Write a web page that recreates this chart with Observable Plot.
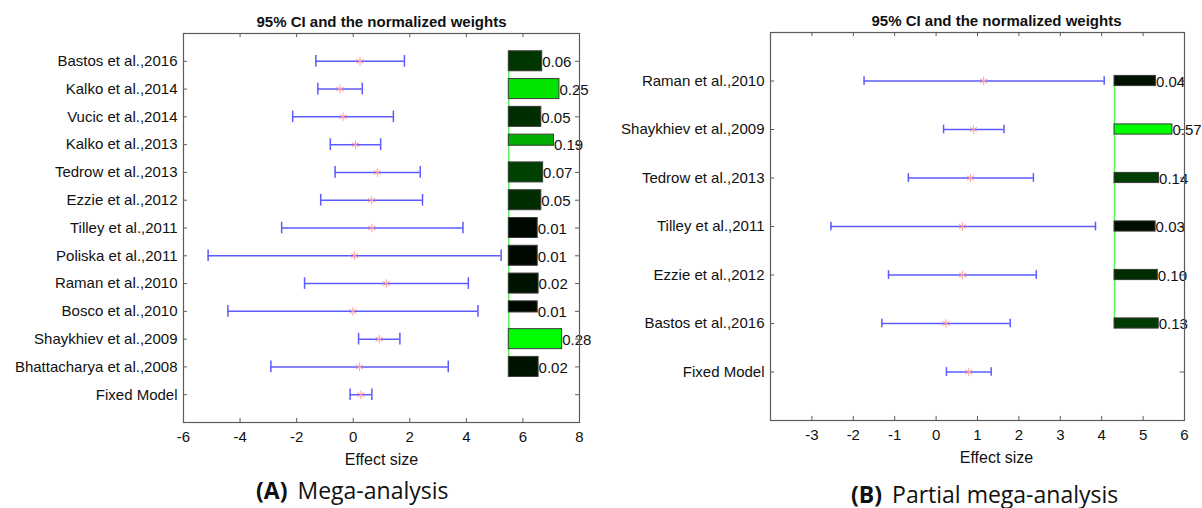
<!DOCTYPE html>
<html><head><meta charset="utf-8">
<script src="https://cdn.jsdelivr.net/npm/d3@7"></script>
<script src="https://cdn.jsdelivr.net/npm/@observablehq/plot@0.6"></script>
<style>
body{margin:0;background:#fff;width:1202px;height:508px;position:relative;overflow:hidden;font-family:"Liberation Sans",Arial,sans-serif}
#a,#b{position:absolute;top:0}
#a{left:0}
#b{left:600px}
.cap{position:absolute;font-family:"Open Sans",sans-serif;font-size:23px;line-height:26px;color:#111;white-space:nowrap;transform:translateY(-50%)}
.cap b{font-weight:700;margin-right:10px}
</style></head><body>
<div id="a"></div><div id="b"></div>
<div class="cap" style="left:256px;top:490px"><b>(A)</b>Mega-analysis</div>
<div class="cap" style="left:851px;top:494px"><b>(B)</b>Partial mega-analysis</div>
<script>
// ---- Panel A: Mega-analysis ----
const studiesA = ["Bastos et al.,2016","Kalko et al.,2014","Vucic et al.,2014","Kalko et al.,2013","Tedrow et al.,2013","Ezzie et al.,2012","Tilley et al.,2011","Poliska et al.,2011","Raman et al.,2010","Bosco et al.,2010","Shaykhiev et al.,2009","Bhattacharya et al.,2008"];
const estA  = [0.24,-0.46,-0.36,0.08,0.85,0.65,0.66,0.05,1.17,-0.01,0.92,0.22];
const lowA  = [-1.32,-1.25,-2.14,-0.81,-0.64,-1.15,-2.53,-5.13,-1.72,-4.43,0.19,-2.91];
const highA = [1.81,0.32,1.42,0.97,2.37,2.45,3.88,5.23,4.07,4.41,1.65,3.36];
const weightsA = [0.06,0.25,0.05,0.19,0.07,0.05,0.01,0.01,0.02,0.01,0.28,0.02];
const fixedA = {est:0.27, low:-0.11, high:0.66};
const ticksA = [-6,-4,-2,0,2,4,6,8];

// ---- Panel B: Partial mega-analysis ----
const studiesB = ["Raman et al.,2010","Shaykhiev et al.,2009","Tedrow et al.,2013","Tilley et al.,2011","Ezzie et al.,2012","Bastos et al.,2016"];
const estB  = [1.15,0.90,0.83,0.64,0.64,0.24];
const lowB  = [-1.74,0.18,-0.67,-2.54,-1.15,-1.31];
const highB = [4.06,1.64,2.35,3.85,2.42,1.79];
const weightsB = [0.04,0.57,0.14,0.03,0.10,0.13];
const fixedB = {est:0.79, low:0.25, high:1.33};
const ticksB = [-3,-2,-1,0,1,2,3,4,5,6];

const FONT = "'Liberation Sans', Arial, sans-serif";

function panel(cfg) {
  const n = cfg.studies.length;
  const labels = [...cfg.studies, "Fixed Model"];
  const rows = labels.map((name, i) => ({
    name, row: i + 1,
    est: i < n ? cfg.est[i] : cfg.fixed.est,
    low: i < n ? cfg.low[i] : cfg.fixed.low,
    high: i < n ? cfg.high[i] : cfg.fixed.high
  }));
  const maxW = d3.max(cfg.weights);
  const bars = cfg.studies.map((name, i) => ({
    row: i + 1, w: cfg.weights[i],
    x1: cfg.barStart,
    x2: cfg.barStart + cfg.barBase + cfg.barK * cfg.weights[i],
    half: cfg.half.includes(name),
    color: d3.rgb(0, Math.round(255 * cfg.weights[i] / maxW), 0).formatHex()
  }));
  const [dx0, dx1] = cfg.domain;
  const ymax = n + 2;
  const rowIdx = rows.map(r => r.row);
  const inner = cfg.ticks.filter(t => t > dx0 && t < dx1);
  const blue = "#5b5bff";
  return Plot.plot({
    width: cfg.width, height: 508,
    marginLeft: cfg.ml, marginRight: cfg.mr, marginTop: cfg.mt, marginBottom: 508 - cfg.fb,
    style: {fontFamily: FONT, color: "#111", background: "transparent"},
    x: {domain: cfg.domain},
    y: {domain: [0, ymax], reverse: true},
    color: {type: "identity"},
    marks: [
      Plot.axisX({ticks: cfg.ticks, tickFormat: d => String(d), tickSize: 0, tickPadding: 9, fontSize: 15, anchor: "bottom", label: null}),
      Plot.axisY({ticks: rowIdx, tickFormat: r => labels[r - 1], tickSize: 0, tickPadding: 6, fontSize: 15, anchor: "left", label: null}),
      // inward tick marks (box axes)
      Plot.ruleX(inner, {x: d => d, y1: ymax, y2: ymax - cfg.tyLen, stroke: "#5c5c5c"}),
      Plot.ruleX(inner, {x: d => d, y1: 0, y2: cfg.tyLen, stroke: "#5c5c5c"}),
      Plot.ruleY(rowIdx, {y: d => d, x1: dx0, x2: dx0 + cfg.txLen, stroke: "#5c5c5c"}),
      Plot.ruleY(rowIdx, {y: d => d, x1: dx1 - cfg.txLen, x2: dx1, stroke: "#5c5c5c"}),
      // confidence intervals
      Plot.ruleY(rows, {y: "row", x1: "low", x2: "high", stroke: blue, strokeWidth: 1.5}),
      Plot.ruleX(rows, {x: "low", y1: d => d.row - cfg.cap, y2: d => d.row + cfg.cap, stroke: blue, strokeWidth: 1.5}),
      Plot.ruleX(rows, {x: "high", y1: d => d.row - cfg.cap, y2: d => d.row + cfg.cap, stroke: blue, strokeWidth: 1.5}),
      Plot.dot(rows, {x: "est", y: "row", symbol: "asterisk", r: 4, stroke: "#ff9a9a", strokeWidth: 1}),
      // weights
      Plot.ruleX([cfg.barStart], {x: d => d, y1: 1, y2: n, stroke: "#5cf25c", strokeWidth: 1.5}),
      Plot.rect(bars, {x1: "x1", x2: "x2", y1: d => d.row - cfg.bh, y2: d => d.half ? d.row + 0.04 : d.row + cfg.bh, fill: "color", stroke: "#3a3a3a", strokeWidth: 1}),
      Plot.text(bars, {x: "x2", y: "row", text: d => d3.format(".2f")(d.w), textAnchor: "start", dx: 0, dy: 1, fontSize: 15, fill: "#111"}),
      Plot.frame({stroke: "#5c5c5c", strokeWidth: 1.2}),
      Plot.text(["95% CI and the normalized weights"], {frameAnchor: "top", dy: -11, dx: cfg.tdx, fontWeight: "bold", fontSize: 15, lineAnchor: "middle", fill: "#111"}),
      Plot.text(["Effect size"], {frameAnchor: "bottom", dy: 37, dx: cfg.tdx, fontSize: 16, lineAnchor: "middle", fill: "#111"})
    ]
  });
}

document.getElementById("a").append(panel({
  studies: studiesA, est: estA, low: lowA, high: highA, weights: weightsA, fixed: fixedA,
  ticks: ticksA, domain: [-6, 8], width: 600, ml: 183, mr: 21, mt: 33, fb: 422,
  barStart: 5.5, barBase: 0.99, barK: 3.2, bh: 0.36, cap: 0.21,
  half: ["Kalko et al.,2013", "Bosco et al.,2010"],
  tyLen: 0.15, txLen: 0.14, tdx: 0
}));

document.getElementById("b").append(panel({
  studies: studiesB, est: estB, low: lowB, high: highB, weights: weightsB, fixed: fixedB,
  ticks: ticksB, domain: [-4, 6], width: 602, ml: 170, mr: 18, mt: 32, fb: 420,
  barStart: 4.31, barBase: 0.97, barK: 0.75, bh: 0.105, cap: 0.09,
  half: [],
  tyLen: 0.085, txLen: 0.1, tdx: 19
}));
</script>
</body></html>
